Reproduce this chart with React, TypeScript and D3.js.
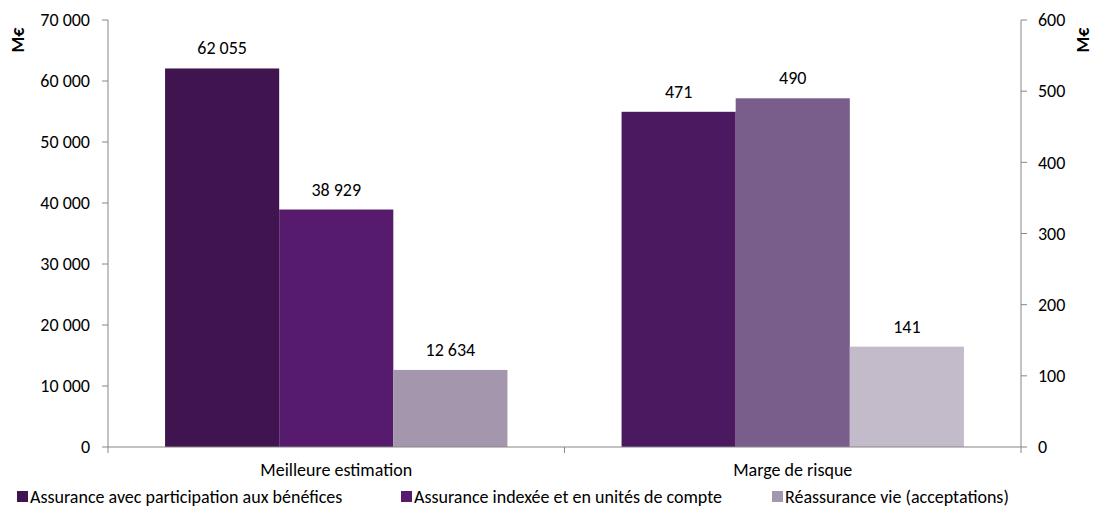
import React from "react";
import * as d3 from "d3";

const categories = ["Meilleure estimation", "Marge de risque"];
const seriesNames = [
  "Assurance avec participation aux bénéfices",
  "Assurance indexée et en unités de compte",
  "Réassurance vie (acceptations)",
];
const bestEstimate = [62055, 38929, 12634];
const riskMargin = [471, 490, 141];
const leftTicks = [0, 10000, 20000, 30000, 40000, 50000, 60000, 70000];
const rightTicks = [0, 100, 200, 300, 400, 500, 600];
const colorsBest = ["#40154F", "#561B6D", "#A496AC"];
const colorsRisk = ["#4B1960", "#795E8B", "#C3BBCA"];
const legendColors = ["#40154F", "#561B6D", "#A496AC"];

const W = 1094;
const H = 508;
const M = { left: 108, right: 1021, top: 20, bottom: 447 };
const FONT = "Carlito, Calibri, Lato, sans-serif";
const FS = 18;

const fmt = (v: number) => d3.format(",")(v).replace(/,/g, " ");

export default function App() {
  const x = d3.scaleBand<string>().domain(categories).range([M.left, M.right]);
  const inner = d3
    .scaleBand<number>()
    .domain([0, 1, 2])
    .range([0, x.bandwidth()])
    .paddingOuter(0.5)
    .paddingInner(0);
  const yL = d3.scaleLinear().domain([0, 70000]).range([M.bottom, M.top]);
  const yR = d3.scaleLinear().domain([0, 600]).range([M.bottom, M.top]);
  const axisColor = "#868686";
  const groups = [
    { cat: categories[0], vals: bestEstimate, scale: yL, colors: colorsBest },
    { cat: categories[1], vals: riskMargin, scale: yR, colors: colorsRisk },
  ];
  const legendX = [17, 401, 772];
  return (
    <svg width={W} height={H} style={{ position: "absolute", left: 0, top: 0, background: "#fff" }} fontFamily={FONT}>
      {groups.map((g) =>
        g.vals.map((v, i) => {
          const bx = (x(g.cat) as number) + (inner(i) as number);
          const by = g.scale(v);
          return (
            <g key={g.cat + i}>
              <rect x={bx} y={by} width={inner.bandwidth()} height={M.bottom - by} fill={g.colors[i]} />
              <text x={bx + inner.bandwidth() / 2} y={by - 14} textAnchor="middle" fontSize={FS} fill="#000">
                {fmt(v)}
              </text>
            </g>
          );
        })
      )}
      {/* left axis */}
      <line x1={M.left} x2={M.left} y1={M.top} y2={M.bottom} stroke={axisColor} />
      {leftTicks.map((t) => (
        <g key={"l" + t}>
          <line x1={M.left - 6} x2={M.left} y1={yL(t)} y2={yL(t)} stroke={axisColor} />
          <text x={M.left - 18} y={yL(t)} dy="0.35em" textAnchor="end" fontSize={FS} fill="#000">
            {fmt(t)}
          </text>
        </g>
      ))}
      {/* right axis */}
      <line x1={M.right} x2={M.right} y1={M.top} y2={M.bottom} stroke={axisColor} />
      {rightTicks.map((t) => (
        <g key={"r" + t}>
          <line x1={M.right} x2={M.right + 6} y1={yR(t)} y2={yR(t)} stroke={axisColor} />
          <text x={M.right + 17} y={yR(t)} dy="0.35em" textAnchor="start" fontSize={FS} fill="#000">
            {fmt(t)}
          </text>
        </g>
      ))}
      {/* x axis */}
      <line x1={M.left} x2={M.right} y1={M.bottom} y2={M.bottom} stroke={axisColor} />
      {[M.left, M.left + x.bandwidth(), M.right].map((tx, i) => (
        <line key={"xt" + i} x1={tx} x2={tx} y1={M.bottom} y2={M.bottom + 6} stroke={axisColor} />
      ))}
      {categories.map((c) => (
        <text key={c} x={(x(c) as number) + x.bandwidth() / 2} y={476} textAnchor="middle" fontSize={FS} fill="#000">
          {c}
        </text>
      ))}
      {/* unit labels */}
      <text transform="translate(24,40) rotate(-90)" textAnchor="middle" fontSize={FS} fontWeight="bold" fill="#000">
        M€
      </text>
      <text transform="translate(1089,40) rotate(-90)" textAnchor="middle" fontSize={FS} fontWeight="bold" fill="#000">
        M€
      </text>
      {/* legend */}
      {seriesNames.map((s, i) => (
        <g key={s}>
          <rect x={legendX[i]} y={491} width={11} height={11} fill={legendColors[i]} />
          <text x={legendX[i] + 13} y={503} fontSize={FS} fill="#000">
            {s}
          </text>
        </g>
      ))}
    </svg>
  );
}
